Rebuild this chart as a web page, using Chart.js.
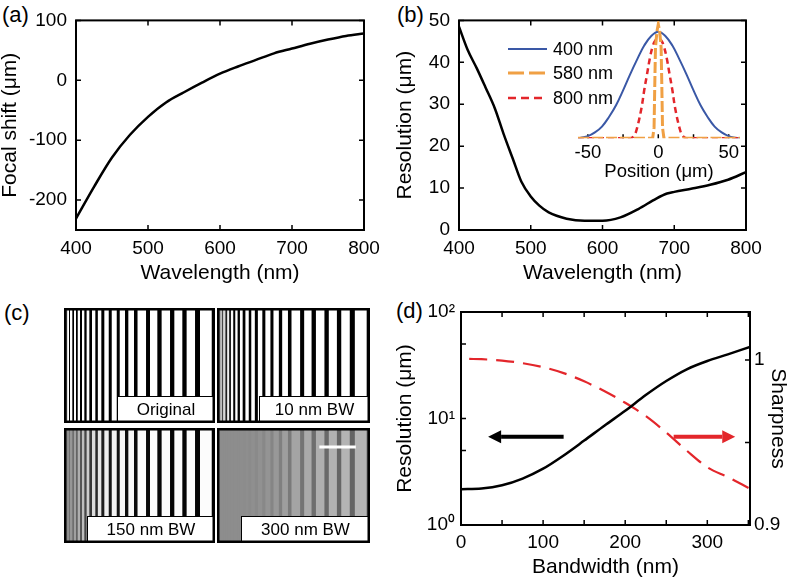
<!DOCTYPE html>
<html>
<head>
<meta charset="utf-8">
<script src="https://cdn.jsdelivr.net/npm/chart.js@4.4.1/dist/chart.umd.min.js"></script>
<style>
  body { margin: 0; background: #fff; width: 790px; height: 580px; position: relative; overflow: hidden;
         font-family: 'Liberation Sans', Arial, Helvetica, sans-serif; }
  canvas { position: absolute; }
  .lab { position: absolute; font-size: 22px; line-height: 22px; color: #000; }
</style>
</head>
<body>
<div class="lab" style="left:2px;top:4px">(a)</div>
<div class="lab" style="left:397px;top:4px">(b)</div>
<div class="lab" style="left:4px;top:302px">(c)</div>
<div class="lab" style="left:396px;top:300px">(d)</div>

<canvas id="chartA" style="left:0;top:0" width="395" height="290"></canvas>
<canvas id="chartB" style="left:395px;top:0" width="395" height="290"></canvas>
<canvas id="inset" style="left:495px;top:10px" width="265" height="175"></canvas>
<canvas id="imgOrig" style="left:64px;top:308px" width="151" height="115"></canvas>
<canvas id="img10" style="left:217px;top:308px" width="153" height="115"></canvas>
<canvas id="img150" style="left:64px;top:428px" width="151" height="115"></canvas>
<canvas id="img300" style="left:217px;top:428px" width="153" height="115"></canvas>
<canvas id="chartD" style="left:395px;top:270px" width="395" height="310"></canvas>

<script>
const FONT = "'Liberation Sans', Arial, Helvetica, sans-serif";
const RED = '#e3262b';

// (a) focal shift vs wavelength
const wavelengthA = [400, 425, 450, 475, 500, 525, 550, 575, 600, 625, 650, 675, 700, 725, 750, 775, 800];
const focalShift = [-231, -178, -129, -91, -61, -37, -20, -4, 11, 23, 34, 45, 53, 61, 68, 74, 78];
const wlTicks = [400, 500, 600, 700, 800];
const focalTicks = [-200, -100, 0, 100];

// (b) resolution vs wavelength
const wavelengthB = [400, 412, 425, 437, 450, 462, 475, 487, 500, 512, 525, 550, 575, 600, 625, 650, 675, 690, 700, 725, 750, 775, 800];
const resolutionB = [48.5, 43, 38.5, 34, 29, 23, 17, 11.5, 8, 5.8, 4.2, 2.7, 2.2, 2.2, 3, 5, 7.5, 8.7, 9.1, 9.9, 10.8, 12, 13.8];
const resTicks = [0, 10, 20, 30, 40, 50];

// (b) inset: focal spot profiles
const insetLabels = ['400 nm', '580 nm', '800 nm'];
const pos400 = [-57, -55, -50, -45, -40, -35, -30, -25, -20, -15, -10, -5, 0, 5, 10, 15, 20, 25, 30, 35, 40, 45, 50, 55, 58];
const psf400 = [0, 0.005, 0.02, 0.055, 0.11, 0.2, 0.31, 0.45, 0.6, 0.74, 0.87, 0.96, 1, 0.96, 0.87, 0.74, 0.6, 0.45, 0.31, 0.2, 0.11, 0.055, 0.02, 0.005, 0];
const pos580 = [-57, -4, -3, -2.5, -2, -1, 0, 1, 2, 2.5, 3, 4, 58];
const psf580 = [0, 0, 0.1, 0.5, 0.85, 1.0, 1.07, 1.0, 0.85, 0.5, 0.1, 0, 0];
const pos800 = [-57, -20, -17, -15, -12, -10, -8, -6, -4, -2, 0, 2, 4, 6, 8, 10, 12, 15, 17, 20, 58];
const psf800 = [0, 0, 0.03, 0.1, 0.28, 0.45, 0.6, 0.75, 0.86, 0.92, 0.93, 0.92, 0.86, 0.75, 0.6, 0.45, 0.28, 0.1, 0.03, 0, 0];
const posTicks = [-50, 0, 50];

// (c) grating stripes: segment edges (px across image), dark/light alternating
const stripeEdges = [0, 0.8, 2, 2.8, 4.7, 5.7, 8, 9.7, 11.7, 13.4, 15.7, 17.7, 20, 22.3, 25, 27.7, 31, 33.5, 37, 40,
  44.4, 47.4, 52.4, 55.4, 60.7, 64, 69.7, 73.2, 81.7, 85.7, 93, 97.3, 105.7, 110, 118, 122.3, 130.7, 135.7, 147.4, 151];
const darkOrig = [0, 0, 0, 0, 0, 0, 0, 0, 0, 0, 0, 0, 0, 0, 0, 0, 0, 0, 0, 0];
const lightOrig = [255, 255, 255, 255, 255, 255, 255, 255, 255, 255, 255, 255, 255, 255, 255, 255, 255, 255, 255];
const dark10 = [60, 90, 60, 30, 10, 0, 0, 0, 0, 0, 0, 0, 0, 0, 0, 0, 0, 0, 0, 0];
const light10 = [170, 190, 215, 240, 250, 255, 255, 255, 255, 255, 255, 255, 255, 255, 255, 255, 255, 255, 255];
const dark150 = [60, 120, 115, 110, 100, 85, 70, 55, 40, 30, 22, 18, 14, 10, 8, 6, 5, 5, 5, 0];
const light150 = [150, 145, 150, 160, 175, 190, 205, 220, 230, 238, 243, 246, 248, 250, 251, 252, 252, 252, 252];
const dark300 = [141, 141, 141, 141, 141, 141, 141, 140, 139, 138, 136, 133, 128, 122, 116, 110, 105, 102, 100, 95];
const light300 = [141, 141, 141, 141, 141, 141, 141, 142, 143, 145, 148, 152, 158, 164, 170, 175, 178, 180, 180];
const baseShade = { imgOrig: 128, img10: 128, img150: 128, img300: 141 };

// (d) resolution & sharpness vs bandwidth
const bandwidth = [0, 25, 50, 75, 100, 125, 150, 175, 200, 225, 250, 275, 300, 325, 352];
const resolutionD = [2.17, 2.2, 2.36, 2.73, 3.38, 4.5, 6.2, 8.6, 11.8, 16.6, 22.5, 29, 34.7, 40, 47];
const bandwidthS = [10, 25, 50, 75, 100, 125, 150, 175, 200, 225, 250, 275, 300, 325, 352];
const sharpness = [1.0006, 1.0004, 0.9996, 0.998, 0.9956, 0.992, 0.987, 0.981, 0.974, 0.966, 0.956, 0.945, 0.935, 0.929, 0.922];
const bwTicks = [0, 100, 200, 300];
const supDigits = ['\u2070', '\u00b9', '\u00b2'];

const xy = (xs, ys) => xs.map((x, i) => ({ x: x, y: ys[i] }));
const fixTicks = vals => scale => { scale.ticks = vals.map(v => ({ value: v })); };

// box frame + inward tick marks (MATLAB style)
const frameTicks = {
  id: 'frameTicks',
  afterDatasetsDraw(chart, args, opts) {
    const { ctx, chartArea: a, scales } = chart;
    const len = 5;
    ctx.save();
    ctx.strokeStyle = '#000';
    ctx.lineWidth = 1.5;
    ctx.beginPath();
    (opts.x || []).forEach(v => {
      const px = scales.x.getPixelForValue(v);
      ctx.moveTo(px, a.bottom); ctx.lineTo(px, a.bottom - len);
      ctx.moveTo(px, a.top); ctx.lineTo(px, a.top + len);
    });
    (opts.yLeft || []).forEach(v => {
      const py = scales.y.getPixelForValue(v);
      ctx.moveTo(a.left, py); ctx.lineTo(a.left + len, py);
    });
    (opts.yRight || []).forEach(v => {
      const py = scales[opts.rightScale || 'y'].getPixelForValue(v);
      ctx.moveTo(a.right, py); ctx.lineTo(a.right - len, py);
    });
    ctx.stroke();
    ctx.lineWidth = 2;
    ctx.strokeRect(a.left, a.top, a.right - a.left, a.bottom - a.top);
    ctx.restore();
  }
};

function baseX(min, max, ticks, title, h, pad, tpad) {
  return {
    type: 'linear', min: min, max: max,
    afterBuildTicks: fixTicks(ticks),
    afterFit: s => { s.height = h; },
    grid: { display: false, drawTicks: false }, border: { display: false },
    ticks: { color: '#000', font: { size: 19, family: FONT }, padding: pad, maxRotation: 0, autoSkip: false },
    title: { display: true, text: title, color: '#000', font: { size: 21, family: FONT, lineHeight: 1 }, padding: { top: 0, bottom: tpad } }
  };
}
function baseY(min, max, ticks, title, w, pad) {
  return {
    type: 'linear', min: min, max: max,
    afterBuildTicks: fixTicks(ticks),
    afterFit: s => { s.width = w; },
    grid: { display: false, drawTicks: false }, border: { display: false },
    ticks: { color: '#000', font: { size: 19, family: FONT }, padding: pad, autoSkip: false },
    title: { display: true, text: title, color: '#000', font: { size: 21, family: FONT, lineHeight: 1 }, padding: { top: 0, bottom: 0 } }
  };
}
const common = { responsive: false, animation: false, events: [] };

// (a)
new Chart(document.getElementById('chartA'), {
  type: 'line',
  data: { datasets: [{ data: xy(wavelengthA, focalShift), borderColor: '#000', borderWidth: 2.5, pointRadius: 0, cubicInterpolationMode: 'monotone' }] },
  options: {
    ...common,
    layout: { padding: { top: 16, right: 31, bottom: 0, left: 0 } },
    plugins: { legend: { display: false }, tooltip: { enabled: false },
      frameTicks: { x: wlTicks, yLeft: focalTicks, yRight: focalTicks } },
    scales: {
      x: baseX(400, 800, wlTicks, 'Wavelength (nm)', 60, 7, 6.5),
      y: baseY(-250, 100, focalTicks, 'Focal shift (\u03bcm)', 76, 9)
    }
  },
  plugins: [frameTicks]
});

// (b)
new Chart(document.getElementById('chartB'), {
  type: 'line',
  data: { datasets: [{ data: xy(wavelengthB, resolutionB), borderColor: '#000', borderWidth: 2.5, pointRadius: 0, cubicInterpolationMode: 'monotone' }] },
  options: {
    ...common,
    layout: { padding: { top: 15, right: 44, bottom: 0, left: 0 } },
    plugins: { legend: { display: false }, tooltip: { enabled: false },
      frameTicks: { x: wlTicks, yLeft: resTicks, yRight: resTicks } },
    scales: {
      x: baseX(400, 800, wlTicks, 'Wavelength (nm)', 60, 7, 6.5),
      y: baseY(0, 50, resTicks, 'Resolution (\u03bcm)', 64, 9)
    }
  },
  plugins: [frameTicks]
});

// (b) inset with its legend
const insetLegend = {
  id: 'insetLegend',
  afterDraw(chart) {
    const ctx = chart.ctx;
    const rows = [39, 63, 88];
    ctx.save();
    chart.data.datasets.forEach((ds, i) => {
      ctx.strokeStyle = ds.borderColor;
      ctx.lineWidth = ds.borderWidth;
      ctx.setLineDash(ds.legendDash || []);
      ctx.beginPath();
      ctx.moveTo(13, rows[i]); ctx.lineTo(52, rows[i]);
      ctx.stroke();
      ctx.setLineDash([]);
      ctx.fillStyle = '#000';
      ctx.font = '18px ' + FONT;
      ctx.textBaseline = 'middle';
      ctx.fillText(ds.label, 58, rows[i] + 1);
    });
    ctx.restore();
  },
  beforeDatasetsDraw(chart) {
    const { ctx, chartArea: a, scales } = chart;
    ctx.save();
    ctx.strokeStyle = '#000';
    ctx.lineWidth = 1.5;
    ctx.beginPath();
    [-50, -25, 0, 25, 50].forEach(v => {
      const px = scales.x.getPixelForValue(v);
      ctx.moveTo(px, a.bottom); ctx.lineTo(px, a.bottom - 4);
    });
    ctx.stroke();
    ctx.restore();
  }
};
new Chart(document.getElementById('inset'), {
  type: 'line',
  data: { datasets: [
    { label: insetLabels[0], data: xy(pos400, psf400), borderColor: '#3a58a6', borderWidth: 2, pointRadius: 0, tension: 0.4, order: 2 },
    { label: insetLabels[1], data: xy(pos580, psf580), borderColor: '#f0a044', borderWidth: 3, borderDash: [11, 3], legendDash: [16, 5], pointRadius: 0, tension: 0, order: 0 },
    { label: insetLabels[2], data: xy(pos800, psf800), borderColor: RED, borderWidth: 2.5, borderDash: [6, 4], legendDash: [8, 5], pointRadius: 0, tension: 0.4, order: 1 }
  ] },
  options: {
    ...common,
    layout: { padding: { top: 11, right: 20, bottom: 0, left: 83 } },
    plugins: { legend: { display: false }, tooltip: { enabled: false } },
    scales: {
      x: {
        type: 'linear', min: -57, max: 58,
        afterBuildTicks: fixTicks(posTicks),
        afterFit: s => { s.height = 46.7; },
        grid: { display: false, drawTicks: false }, border: { display: false },
        ticks: { color: '#000', font: { size: 18.5, family: FONT }, padding: 4, maxRotation: 0, autoSkip: false },
        title: { display: true, text: 'Position (\u03bcm)', color: '#000', font: { size: 18.5, family: FONT, lineHeight: 1 }, padding: { top: 0, bottom: 4 } }
      },
      y: { display: false, min: 0, max: 1.1 }
    }
  },
  plugins: [insetLegend]
});

// (c) grating images as floating bars
function stripeChart(id, dark, light, label, boxW, scaleBar) {
  const b = baseShade[id];
  const segs = [{ data: [[0, 151]], backgroundColor: `rgb(${b},${b},${b})`, borderWidth: 0,
    barPercentage: 1, categoryPercentage: 1, grouped: false, order: 1 }];
  for (let i = 0; i < stripeEdges.length - 1; i++) {
    const g = i % 2 === 0 ? dark[i / 2] : light[(i - 1) / 2];
    segs.push({ data: [[stripeEdges[i], stripeEdges[i + 1]]], backgroundColor: `rgb(${g},${g},${g})`,
      borderWidth: 0, barPercentage: 1, categoryPercentage: 1, grouped: false, order: 0 });
  }
  const decor = {
    id: 'decor',
    afterDraw(chart) {
      const ctx = chart.ctx;
      const W = chart.width, H = chart.height;
      ctx.save();
      if (scaleBar) {
        ctx.strokeStyle = '#fff';
        ctx.lineWidth = 3;
        ctx.beginPath();
        ctx.moveTo(chart.scales.x.getPixelForValue(scaleBar[0]), 19);
        ctx.lineTo(chart.scales.x.getPixelForValue(scaleBar[1]), 19);
        ctx.stroke();
      }
      ctx.fillStyle = '#fff';
      ctx.fillRect(W - boxW, H - 27, boxW, 27);
      ctx.strokeStyle = '#000';
      ctx.lineWidth = 1;
      ctx.strokeRect(W - boxW + 0.5, H - 26.5, boxW, 27);
      ctx.fillStyle = '#000';
      ctx.font = '17px ' + FONT;
      ctx.textAlign = 'center';
      ctx.textBaseline = 'middle';
      ctx.fillText(label, W - boxW / 2, H - 13);
      ctx.lineWidth = 2.5;
      ctx.strokeRect(1.25, 1.25, W - 2.5, H - 2.5);
      ctx.restore();
    }
  };
  new Chart(document.getElementById(id), {
    type: 'bar',
    data: { labels: [''], datasets: segs },
    options: {
      ...common, indexAxis: 'y',
      layout: { padding: 0 },
      plugins: { legend: { display: false }, tooltip: { enabled: false } },
      scales: { x: { type: 'linear', display: false, min: 0, max: 151 }, y: { display: false } }
    },
    plugins: [decor]
  });
}
stripeChart('imgOrig', darkOrig, lightOrig, 'Original', 98, null);
stripeChart('img10', dark10, light10, '10 nm BW', 111, null);
stripeChart('img150', dark150, light150, '150 nm BW', 128, null);
stripeChart('img300', dark300, light300, '300 nm BW', 129, [101, 137]);

// (d) arrows pointing to each axis
const arrowLevel = 6.75;
const arrows = [{ from: 125, to: 33, color: '#000' }, { from: 259, to: 334, color: RED }];
const arrowPlugin = {
  id: 'arrows',
  afterDatasetsDraw(chart) {
    const { ctx, scales } = chart;
    const y = scales.y.getPixelForValue(arrowLevel);
    ctx.save();
    arrows.forEach(a => {
      const x0 = scales.x.getPixelForValue(a.from);
      const x1 = scales.x.getPixelForValue(a.to);
      const dir = Math.sign(x1 - x0);
      const head = 13;
      ctx.strokeStyle = a.color;
      ctx.fillStyle = a.color;
      ctx.lineWidth = 4;
      ctx.beginPath();
      ctx.moveTo(x0, y); ctx.lineTo(x1 - dir * head, y);
      ctx.stroke();
      ctx.beginPath();
      ctx.moveTo(x1, y);
      ctx.lineTo(x1 - dir * head, y - 6.5);
      ctx.lineTo(x1 - dir * head, y + 6.5);
      ctx.closePath();
      ctx.fill();
    });
    ctx.restore();
  }
};
const yD = baseY(1, 100, [1, 10, 100], 'Resolution (\u03bcm)', 66, 6);
yD.type = 'logarithmic';
yD.ticks.callback = v => '10' + supDigits[Math.round(Math.log10(v))];
const y2D = baseY(0.9, 1.029, [0.9, 1], 'Sharpness', 40, 4);
y2D.position = 'right';
y2D.ticks.callback = v => (v === 1 ? '1' : '0.9');
y2D.title.padding = { top: 1.5, bottom: 0 };
new Chart(document.getElementById('chartD'), {
  type: 'line',
  data: { datasets: [
    { data: xy(bandwidth, resolutionD), yAxisID: 'y', borderColor: '#000', borderWidth: 2.5, pointRadius: 0, cubicInterpolationMode: 'monotone' },
    { data: xy(bandwidthS, sharpness), yAxisID: 'y2', borderColor: RED, borderWidth: 2.2, borderDash: [18, 9], pointRadius: 0, cubicInterpolationMode: 'monotone' }
  ] },
  options: {
    ...common,
    layout: { padding: { top: 42, right: 0, bottom: 0, left: 0 } },
    plugins: { legend: { display: false }, tooltip: { enabled: false },
      frameTicks: { x: [50, 100, 150, 200, 250, 300, 350], yLeft: [5, 10, 50], yRight: [0.95, 1], rightScale: 'y2' } },
    scales: {
      x: baseX(0, 352, bwTicks, 'Bandwidth (nm)', 55, 6.6, 2.5),
      y: yD,
      y2: y2D
    }
  },
  plugins: [frameTicks, arrowPlugin]
});
</script>
</body>
</html>
